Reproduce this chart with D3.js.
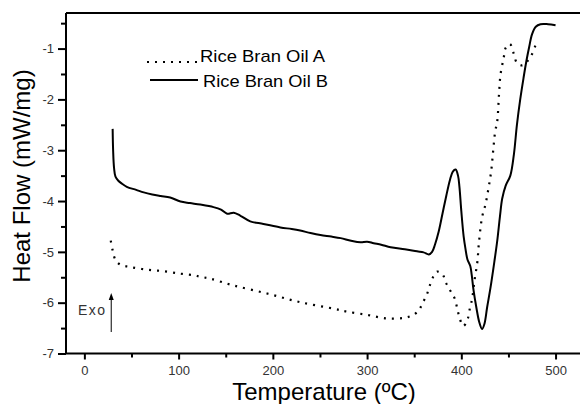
<!DOCTYPE html>
<html>
<head>
<meta charset="utf-8">
<script src="https://cdn.jsdelivr.net/npm/d3@7"></script>
<style>
  html, body { margin: 0; padding: 0; background: #fff; }
  svg { display: block; font-family: "Liberation Sans", Arial, sans-serif; }
</style>
</head>
<body>
<svg id="chart" width="580" height="404"></svg>
<script>
// ---- Data ----
const tempA = [28,30,33,38,49,66,84,102,116,123,134,158,194,229,265,277,300,321,339,348,355,358.5,363,366.6,371,374.4,379.7,384,388.5,393,395.6,398,402,405,407,409,411.5,414,417,418.6,422,425.7,429,431.7,433.8,436,438,440,441.6,445,447,451.5,455.8,459,464.6,470,475,479];
const heatA = [-4.78,-4.97,-5.16,-5.25,-5.30,-5.35,-5.38,-5.43,-5.46,-5.49,-5.53,-5.66,-5.82,-5.99,-6.12,-6.17,-6.24,-6.31,-6.30,-6.25,-6.15,-6.02,-5.86,-5.66,-5.46,-5.39,-5.43,-5.62,-5.77,-5.92,-6.11,-6.29,-6.46,-6.40,-6.31,-6.12,-5.92,-5.56,-5.20,-4.84,-4.32,-4.06,-3.73,-3.41,-3.01,-2.62,-2.45,-1.90,-1.51,-1.18,-0.99,-0.91,-1.11,-1.28,-1.33,-1.25,-1.11,-0.92];

const tempB = [30,30.5,31.5,33,36,40,45,55,63,72,81,91,102,112,123,137,145,151.5,158.5,165.6,176,190,208,220,229,240,250.5,262,272,283,293,300,307,315,325,340,353,360,365.6,369,372,376,380,384,388,391,394,396.5,398,400,402.5,404.5,406.5,409.5,411,413,416,419,422,424.5,427.4,431,435,438,441,443.4,447,452,455.8,459,462.5,466,469,472,475,479,484,492,500];
const heatB = [-2.58,-3.0,-3.35,-3.52,-3.60,-3.66,-3.72,-3.78,-3.83,-3.87,-3.90,-3.93,-4.01,-4.04,-4.07,-4.12,-4.17,-4.25,-4.23,-4.29,-4.40,-4.45,-4.52,-4.55,-4.58,-4.63,-4.67,-4.70,-4.73,-4.78,-4.81,-4.80,-4.83,-4.86,-4.91,-4.95,-4.99,-5.01,-5.05,-5.00,-4.86,-4.60,-4.25,-3.90,-3.58,-3.42,-3.38,-3.50,-3.72,-4.20,-4.70,-4.95,-5.15,-5.28,-5.45,-5.76,-6.10,-6.38,-6.52,-6.42,-6.09,-5.70,-5.20,-4.80,-4.30,-3.95,-3.70,-3.50,-3.08,-2.50,-2.00,-1.58,-1.25,-0.97,-0.72,-0.57,-0.52,-0.52,-0.54];

const seriesNames = ["Rice Bran Oil A", "Rice Bran Oil B"];
const xMajorTicks = [0, 100, 200, 300, 400, 500];
const xMinorTicks = [50, 150, 250, 350, 450];
const yMajorTicks = [-7, -6, -5, -4, -3, -2, -1];
const yMinorTicks = [-6.5, -5.5, -4.5, -3.5, -2.5, -1.5, -0.5];
const xTitle = "Temperature (ºC)";
const yTitle = "Heat Flow (mW/mg)";
const exoLabel = "Exo";

// ---- Scales ----
const svg = d3.select("#chart");
const x = d3.scaleLinear().domain([-19.5, 527]).range([66, 581]);
const y = d3.scaleLinear().domain([-7, -0.3]).range([353.5, 13]);
const fmt = d => String(d);

const g = svg.append("g");

// frame: top line
g.append("line").attr("x1", 66).attr("x2", 580).attr("y1", 13).attr("y2", 13)
  .attr("stroke", "#000").attr("stroke-width", 2);

// X axis
const xAxis = g.append("g").attr("transform", `translate(0,${y(-7)})`)
  .call(d3.axisBottom(x).tickValues(xMajorTicks).tickFormat(fmt).tickSize(6).tickSizeOuter(0).tickPadding(6));
xAxis.select(".domain").attr("stroke-width", 2).attr("d", `M66,0H580`);
xAxis.selectAll(".tick line").attr("stroke-width", 2);
xAxis.selectAll(".tick text").attr("font-size", 13).attr("fill", "#333")
  .attr("font-family", "'Liberation Sans', Arial, sans-serif");
const xMinor = g.append("g").attr("transform", `translate(0,${y(-7)})`)
  .call(d3.axisBottom(x).tickValues(xMinorTicks).tickSize(4).tickFormat(""));
xMinor.select(".domain").remove();
xMinor.selectAll(".tick line").attr("stroke-width", 2);

// Y axis
const yAxis = g.append("g").attr("transform", `translate(${x(-19.5)},0)`)
  .call(d3.axisLeft(y).tickValues(yMajorTicks).tickFormat(fmt).tickSize(8).tickSizeOuter(0).tickPadding(4));
yAxis.select(".domain").attr("stroke-width", 2).attr("d", `M0,13V${y(-7)}`);
yAxis.selectAll(".tick line").attr("stroke-width", 2);
yAxis.selectAll(".tick text").attr("font-size", 13).attr("fill", "#333")
  .attr("font-family", "'Liberation Sans', Arial, sans-serif");
const yMinor = g.append("g").attr("transform", `translate(${x(-19.5)},0)`)
  .call(d3.axisLeft(y).tickValues(yMinorTicks).tickSize(5).tickFormat(""));
yMinor.select(".domain").remove();
yMinor.selectAll(".tick line").attr("stroke-width", 2);

// Lines
const line = d3.line().x(d => x(d[0])).y(d => y(d[1])).curve(d3.curveCatmullRom.alpha(0.5));
const dataA = tempA.map((t, i) => [t, heatA[i]]);
const dataB = tempB.map((t, i) => [t, heatB[i]]);

g.append("path").datum(dataA).attr("d", line)
  .attr("fill", "none").attr("stroke", "#000").attr("stroke-width", 2.2)
  .attr("stroke-dasharray", "2,6");
g.append("path").datum(dataB).attr("d", line)
  .attr("fill", "none").attr("stroke", "#000").attr("stroke-width", 2);

// Legend
const leg = g.append("g");
leg.append("line").attr("x1", 147).attr("x2", 199).attr("y1", 62).attr("y2", 62)
  .attr("stroke", "#000").attr("stroke-width", 2.2).attr("stroke-dasharray", "2,6");
leg.append("text").attr("x", 200).attr("y", 62).attr("font-size", 17)
  .attr("textLength", 125).attr("lengthAdjust", "spacingAndGlyphs").text(seriesNames[0]);
leg.append("line").attr("x1", 150).attr("x2", 198).attr("y1", 80).attr("y2", 80)
  .attr("stroke", "#000").attr("stroke-width", 2);
leg.append("text").attr("x", 203).attr("y", 87).attr("font-size", 17)
  .attr("textLength", 125).attr("lengthAdjust", "spacingAndGlyphs").text(seriesNames[1]);

// Exo annotation
g.append("text").attr("x", 78).attr("y", 315).attr("font-size", 14).attr("fill", "#333")
  .attr("letter-spacing", 1.5).text(exoLabel);
g.append("line").attr("x1", x(28.5)).attr("x2", x(28.5)).attr("y1", 332).attr("y2", 298)
  .attr("stroke", "#000").attr("stroke-width", 1);
g.append("path").attr("d", `M${x(28.5)},293 l-2.5,7 h5 z`).attr("fill", "#000");

// Axis titles
g.append("text").attr("x", 324).attr("y", 400).attr("text-anchor", "middle")
  .attr("font-size", 24).text(xTitle);
g.append("text").attr("transform", "translate(30,176) rotate(-90)")
  .attr("text-anchor", "middle").attr("font-size", 24).text(yTitle);
</script>
</body>
</html>
